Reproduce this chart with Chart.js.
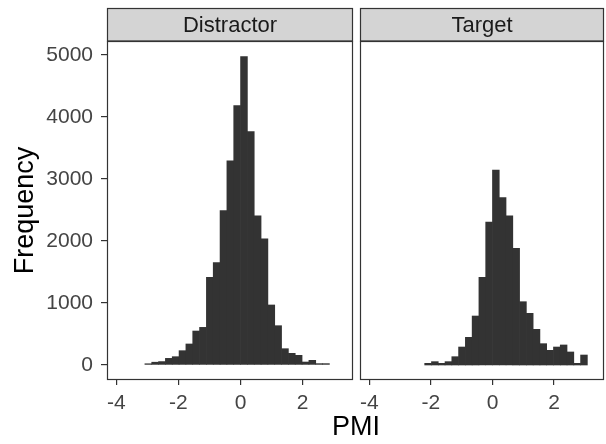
<!DOCTYPE html>
<html>
<head>
<meta charset="utf-8">
<script src="https://cdn.jsdelivr.net/npm/chart.js@4.4.1/dist/chart.umd.min.js"></script>
<style>
    body { margin: 0; background: #ffffff; }
    #wrap { position: relative; width: 606px; height: 444px; }
    canvas { position: absolute; top: 0; }
</style>
</head>
<body>
<div id="wrap">
    <canvas id="distractorChart" width="606" height="444" style="left:0"></canvas>
    <canvas id="targetChart" width="250" height="444" style="left:356px"></canvas>
</div>
<script>
// PMI bin centres (binwidth 0.22) and counts
var distractorBins = [-2.97, -2.75, -2.53, -2.31, -2.09, -1.87, -1.65, -1.43, -1.21, -0.99, -0.77, -0.55, -0.33, -0.11,
    0.11, 0.33, 0.55, 0.77, 0.99, 1.21, 1.43, 1.65, 1.87, 2.09, 2.31, 2.53, 2.75];
var distractorCounts = [20, 45, 55, 107, 134, 231, 339, 548, 607, 1414, 1650, 2489, 3295, 4183,
    4973, 3763, 2408, 2037, 968, 634, 263, 188, 156, 48, 75, 22, 22];

var targetBins = [-2.09, -1.87, -1.65, -1.43, -1.21, -0.99, -0.77, -0.55, -0.33, -0.11,
    0.11, 0.33, 0.55, 0.77, 0.99, 1.21, 1.43, 1.65, 1.87, 2.09, 2.31, 2.53, 2.75, 2.97];
var targetCounts = [27, 54, 27, 54, 134, 290, 446, 790, 1414, 2306,
    3145, 2699, 2408, 1882, 1021, 833, 575, 344, 237, 290, 323, 210, 27, 161];

var xTicks = [-4, -2, 0, 2];
var yTicks = [0, 1000, 2000, 3000, 4000, 5000];

var panelNames = ['Distractor', 'Target'];
var xTitle = 'PMI';
var yTitle = 'Frequency';

var FONT = "'Liberation Sans', Arial, sans-serif";
Chart.defaults.font.family = FONT;
Chart.defaults.color = '#444444';

// strip + panel border (+ shared x title on the first panel)
var panelPlugin = {
    id: 'panel',
    afterDatasetsDraw: function (chart, args, opts) {
        var a = chart.chartArea;
        var ctx = chart.ctx;
        var stripTop = 8.5;
        ctx.save();
        ctx.fillStyle = '#d4d4d4';
        ctx.fillRect(a.left, stripTop, a.right - a.left, a.top - stripTop);
        ctx.strokeStyle = '#333333';
        ctx.lineWidth = 1.2;
        ctx.strokeRect(a.left + 0.5, stripTop, a.right - a.left - 1, a.top - stripTop);
        ctx.strokeRect(a.left + 0.5, a.top + 0.5, a.right - a.left - 1, a.bottom - a.top - 1);
        ctx.fillStyle = '#1a1a1a';
        ctx.font = '22px ' + FONT;
        ctx.textAlign = 'center';
        ctx.textBaseline = 'middle';
        ctx.fillText(opts.label, (a.left + a.right) / 2, (stripTop + a.top) / 2 + 1);
        if (opts.xTitle) {
            ctx.fillStyle = '#000000';
            ctx.font = '27px ' + FONT;
            ctx.fillText(opts.xTitle, 356, 428);
        }
        ctx.restore();
    }
};

function makeData(bins, counts) {
    var pts = [];
    for (var i = 0; i < bins.length; i++) {
        pts.push({ x: bins[i], y: counts[i] });
    }
    return pts;
}

function fixedSize(w, h) {
    return function (scale) {
        if (w !== null) scale.width = w;
        if (h !== null) scale.height = h;
        scale.paddingLeft = 0;
        scale.paddingRight = 0;
        scale.paddingTop = 0;
        scale.paddingBottom = 0;
    };
}

function useTicks(values) {
    return function (scale) {
        scale.ticks = values.map(function (v) { return { value: v }; });
    };
}

function makeConfig(bins, counts, name, showY, padding, title) {
    return {
        type: 'bar',
        data: {
            datasets: [{
                data: makeData(bins, counts),
                backgroundColor: '#333333',
                borderWidth: 0,
                barPercentage: 1,
                categoryPercentage: 1,
                label: name
            }]
        },
        options: {
            responsive: false,
            animation: false,
            devicePixelRatio: 1,
            layout: { padding: padding },
            plugins: {
                legend: { display: false },
                tooltip: { enabled: false },
                panel: { label: name, xTitle: title }
            },
            scales: {
                x: {
                    type: 'linear',
                    offset: false,
                    min: -4.3,
                    max: 3.62,
                    afterBuildTicks: useTicks(xTicks),
                    afterFit: fixedSize(null, 64),
                    border: { display: false },
                    grid: { offset: false, drawOnChartArea: false, tickLength: 5, color: '#333333', lineWidth: 1.2 },
                    ticks: {
                        padding: 6,
                        color: '#444444',
                        font: { size: 21, lineHeight: 1.2 },
                        maxRotation: 0,
                        autoSkip: false,
                        callback: function (v) { return v.toString(); }
                    }
                },
                y: {
                    display: showY,
                    min: -242,
                    max: 5226,
                    afterBuildTicks: useTicks(yTicks),
                    afterFit: showY ? fixedSize(107, null) : undefined,
                    border: { display: false },
                    grid: { drawOnChartArea: false, tickLength: 6, color: '#333333', lineWidth: 1.2 },
                    ticks: {
                        padding: 8,
                        color: '#444444',
                        font: { size: 21, lineHeight: 1.2 },
                        autoSkip: false,
                        callback: function (v) { return v.toString(); }
                    },
                    title: {
                        display: true,
                        text: yTitle,
                        color: '#000000',
                        font: { size: 27, lineHeight: 1.2 },
                        padding: { top: 9, bottom: 0 }
                    }
                }
            }
        },
        plugins: [panelPlugin]
    };
}

new Chart(document.getElementById('distractorChart'),
    makeConfig(distractorBins, distractorCounts, panelNames[0], true,
        { top: 41, bottom: 0, left: 0, right: 253 }, xTitle));

new Chart(document.getElementById('targetChart'),
    makeConfig(targetBins, targetCounts, panelNames[1], false,
        { top: 41, bottom: 0, left: 4, right: 2 }, null));
</script>
</body>
</html>
